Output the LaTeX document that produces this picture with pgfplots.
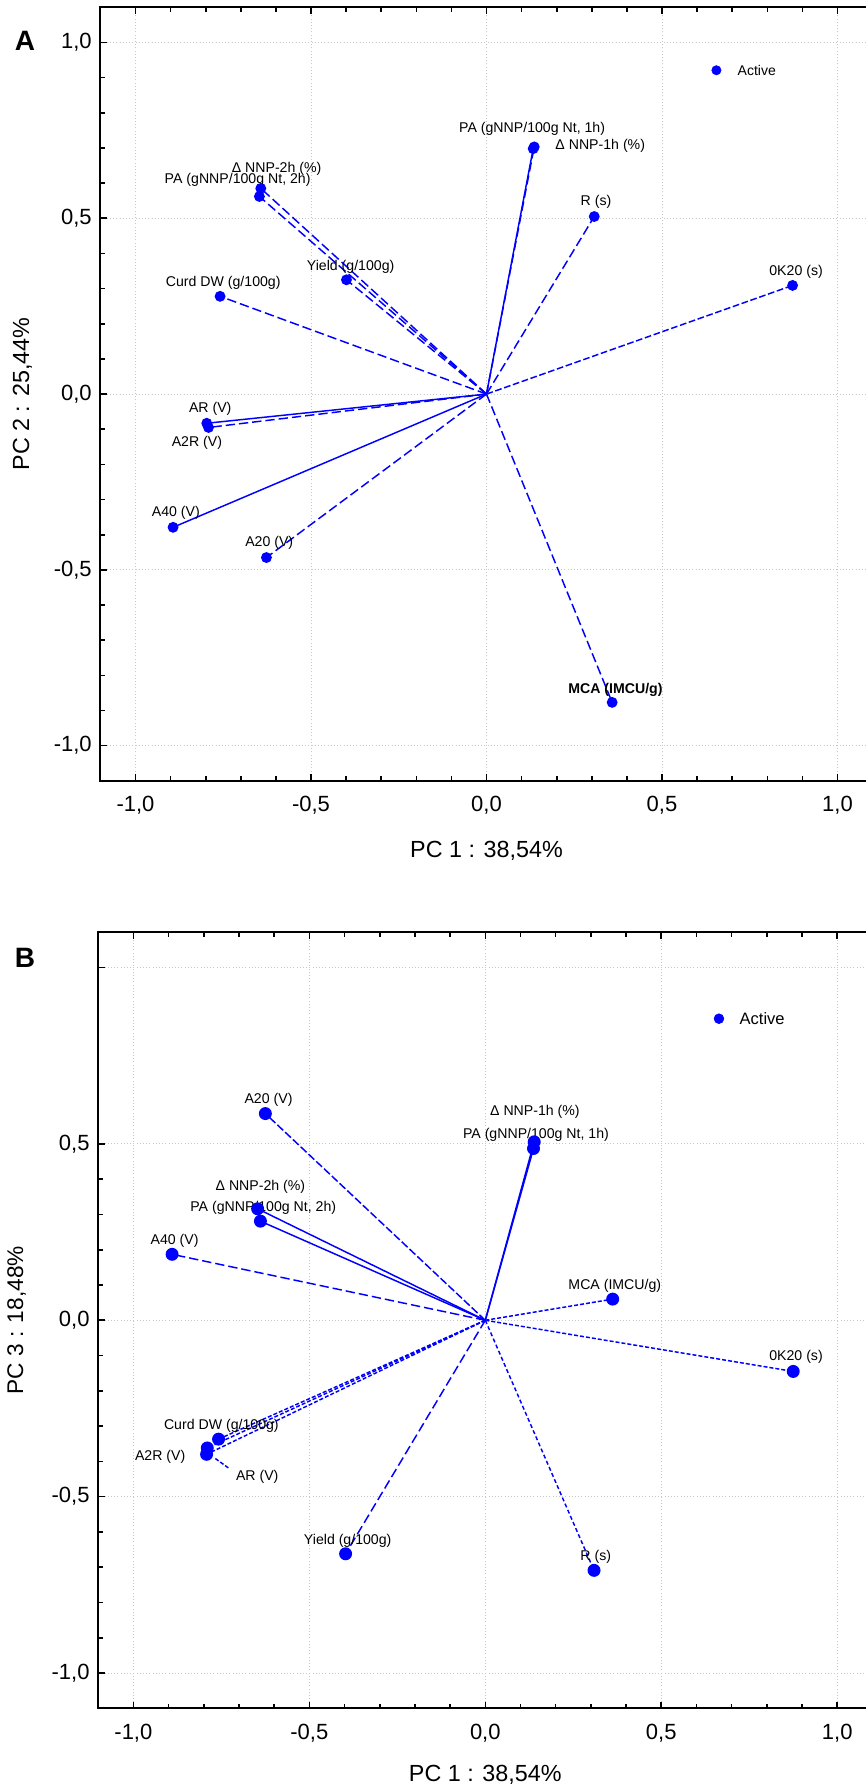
\documentclass[border=0pt]{standalone}
\usepackage{fontspec}
\setmainfont{Liberation Sans}
\usepackage{pgfplots}
\pgfplotsset{compat=1.18}

\tikzset{
  lab/.style={inner sep=0pt, font=\fontsize{10.6}{12}\selectfont},
  dA/.style={dash pattern=on 7pt off 3pt},
  dS/.style={dash pattern=on 3pt off 1.5pt},
}
\pgfplotsset{
  pca/.style={
    scale only axis,
    xmin=-1.1, xmax=1.1, ymin=-1.1, ymax=1.1,
    xtick={-1,-0.5,0,0.5,1}, ytick={-1,-0.5,0,0.5,1},
    minor tick num=4,
    tick align=inside,
    major tick length=5pt, minor tick length=3.5pt,
    tick style={black, line width=1.2pt},
    axis line style={line width=1.5pt},
    grid=major,
    major grid style={gray!45, dotted, line width=0.7pt},
    tick label style={font=\fontsize{16.5}{18}\selectfont},
    xticklabel style={yshift=-8pt},
    yticklabel style={xshift=-3pt},
    /pgf/number format/fixed,
    /pgf/number format/fixed zerofill,
    /pgf/number format/precision=1,
    /pgf/number format/use comma,
    /pgf/number format/assume math mode=true,
    clip=false,
  },
  vec/.style={blue, line width=1.1pt, mark=*, mark indices={2},
    mark options={solid, fill=blue}, mark size=3.5pt},
}

\begin{document}
\begin{tikzpicture}
\path[use as bounding box] (0,0) rectangle (648.75pt,-1340.25pt);

\node[font=\bfseries\fontsize{21}{24}\selectfont] at (18.75pt,-30.75pt) {A};
\node[font=\bfseries\fontsize{21}{24}\selectfont] at (18.75pt,-718.1pt) {B};

% ---------------- panel A : PC1 x PC2
\begin{axis}[pca,
    at={(75.3pt,-5.5pt)}, anchor=north west,
    width=579.15pt, height=580.1pt,
    xlabel={PC 1 : 38,54\%},
    ylabel={PC 2 : 25,44\%},
    every axis x label/.style={at={([yshift=-52.9pt]axis description cs:0.5,0)}, anchor=center,
      font=\fontsize{17.5}{20}\selectfont},
    every axis y label/.style={at={([xshift=-58.4pt]axis description cs:0,0.5)}, rotate=90, anchor=center,
      font=\fontsize{17.5}{20}\selectfont},
]
\addplot[vec] coordinates {(0,0) (0.133,0.698)};      % PA 1h
\addplot[vec,dA] coordinates {(0,0) (0.136,0.703)};   % dNNP-1h
\addplot[vec,dA] coordinates {(0,0) (-0.643,0.585)};  % dNNP-2h
\addplot[vec,dA] coordinates {(0,0) (-0.647,0.562)};  % PA 2h
\addplot[vec,dA] coordinates {(0,0) (0.307,0.505)};   % R
\addplot[vec,dash pattern=on 5pt off 2pt] coordinates {(0,0) (0.872,0.309)}; % 0K20
\addplot[vec,dA] coordinates {(0,0) (-0.399,0.325)};  % Yield
\addplot[vec,dA] coordinates {(0,0) (-0.759,0.278)};  % Curd DW
\addplot[vec] coordinates {(0,0) (-0.797,-0.083)};    % AR
\addplot[vec,dA] coordinates {(0,0) (-0.792,-0.095)}; % A2R
\addplot[vec] coordinates {(0,0) (-0.893,-0.379)};    % A40
\addplot[vec,dA] coordinates {(0,0) (-0.627,-0.465)}; % A20
\addplot[vec,dA] coordinates {(0,0) (0.358,-0.877)};  % MCA
\addplot[only marks, blue, mark=*, mark size=3.5pt] coordinates {(0.655,0.921)};

\node[lab] at (axis cs:0.130,0.754) {PA (gNNP/100g Nt, 1h)};
\node[lab] at (axis cs:0.324,0.706) {Δ NNP-1h (\%)};
\node[lab] at (axis cs:-0.598,0.640) {Δ NNP-2h (\%)};
\node[lab] at (axis cs:-0.709,0.609) {PA (gNNP/100g Nt, 2h)};
\node[lab] at (axis cs:0.312,0.547) {R (s)};
\node[lab] at (axis cs:-0.387,0.363) {Yield (g/100g)};
\node[lab] at (axis cs:-0.750,0.316) {Curd DW (g/100g)};
\node[lab] at (axis cs:0.882,0.349) {0K20 (s)};
\node[lab] at (axis cs:-0.787,-0.043) {AR (V)};
\node[lab] at (axis cs:-0.825,-0.139) {A2R (V)};
\node[lab] at (axis cs:-0.885,-0.338) {A40 (V)};
\node[lab] at (axis cs:-0.619,-0.424) {A20 (V)};
\node[lab,font=\bfseries\fontsize{10.6}{12}\selectfont] at (axis cs:0.3675,-0.841) {MCA (IMCU/g)};
\node[lab,anchor=west,font=\fontsize{10.5}{12}\selectfont] at (axis cs:0.715,0.921) {Active};
\end{axis}

% ---------------- panel B : PC1 x PC3
\begin{axis}[pca,
    at={(73.65pt,-699.2pt)}, anchor=north west,
    width=580.65pt, height=582pt,
    ytick={-1,-0.5,0,0.5},
    extra y ticks={1}, extra y tick labels={},
    extra y tick style={grid=major},
    xlabel={PC 1 : 38,54\%},
    ylabel={PC 3 : 18,48\%},
    every axis x label/.style={at={([yshift=-50pt]axis description cs:0.5,0)}, anchor=center,
      font=\fontsize{17.5}{20}\selectfont},
    every axis y label/.style={at={([xshift=-61.1pt]axis description cs:0,0.5)}, rotate=90, anchor=center,
      font=\fontsize{17}{20}\selectfont},
    vec/.append style={mark size=4.3pt},
]
\addplot[vec,dash pattern=on 6pt off 2pt] coordinates {(0,0) (-0.625,0.586)}; % A20
\addplot[vec] coordinates {(0,0) (0.139,0.506)};      % dNNP-1h
\addplot[vec] coordinates {(0,0) (0.137,0.487)};      % PA 1h
\addplot[vec] coordinates {(0,0) (-0.647,0.316)};     % dNNP-2h
\addplot[vec] coordinates {(0,0) (-0.639,0.281)};     % PA 2h
\addplot[vec,dA] coordinates {(0,0) (-0.890,0.187)};  % A40
\addplot[vec,dS] coordinates {(0,0) (0.362,0.060)};   % MCA
\addplot[vec,dS] coordinates {(0,0) (0.875,-0.145)};  % 0K20
\addplot[vec,dS] coordinates {(0,0) (-0.758,-0.337)}; % Curd DW
\addplot[vec,dS] coordinates {(0,0) (-0.790,-0.362)}; % AR
\addplot[vec,dS] coordinates {(0,0) (-0.792,-0.380)}; % A2R
\addplot[vec,dA] coordinates {(0,0) (-0.397,-0.662)}; % Yield
\addplot[vec,dash pattern=on 3pt off 2pt] coordinates {(0,0) (0.309,-0.709)}; % R
\addplot[only marks, blue, mark=*, mark size=3.7pt] coordinates {(0.664,0.855)};
\draw[blue, line width=1.1pt, dS] (axis cs:-0.767,-0.392) -- (axis cs:-0.728,-0.420);

\node[lab] at (axis cs:-0.616,0.624) {A20 (V)};
\node[lab] at (axis cs:0.141,0.591) {Δ NNP-1h (\%)};
\node[lab] at (axis cs:0.144,0.527) {PA (gNNP/100g Nt, 1h)};
\node[lab] at (axis cs:-0.639,0.378) {Δ NNP-2h (\%)};
\node[lab] at (axis cs:-0.631,0.3195) {PA (gNNP/100g Nt, 2h)};
\node[lab] at (axis cs:-0.883,0.225) {A40 (V)};
\node[lab] at (axis cs:0.368,0.097) {MCA (IMCU/g)};
\node[lab] at (axis cs:0.883,-0.104) {0K20 (s)};
\node[lab] at (axis cs:-0.750,-0.298) {Curd DW (g/100g)};
\node[lab] at (axis cs:-0.924,-0.388) {A2R (V)};
\node[lab] at (axis cs:-0.648,-0.444) {AR (V)};
\node[lab] at (axis cs:-0.391,-0.626) {Yield (g/100g)};
\node[lab] at (axis cs:0.314,-0.671) {R (s)};
\node[lab,anchor=west,font=\fontsize{12.4}{14}\selectfont] at (axis cs:0.722,0.855) {Active};
\end{axis}
\end{tikzpicture}
\end{document}
